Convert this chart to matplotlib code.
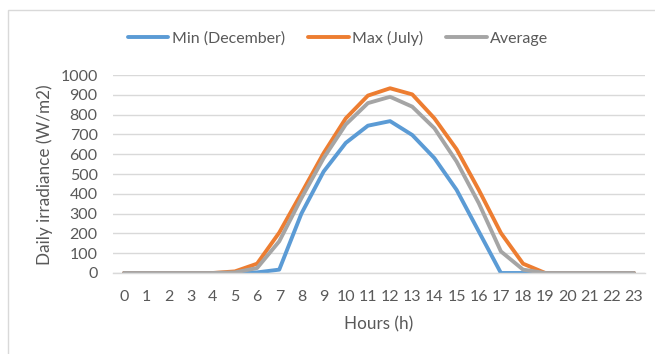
import matplotlib

matplotlib.use("Agg")
import matplotlib.pyplot as plt
from matplotlib.patches import Rectangle

hours = list(range(24))
min_december = [0, 0, 0, 0, 0, 0, 3, 17, 300, 512, 657, 744, 767, 697, 580, 420, 210, 0, 0, 0, 0, 0, 0, 0]
max_july = [0, 0, 0, 0, 0, 8, 47, 204, 403, 605, 781, 896, 933, 902, 781, 625, 420, 202, 47, 0, 0, 0, 0, 0]
average = [0, 0, 0, 0, 0, 3, 25, 160, 378, 580, 750, 858, 890, 840, 731, 563, 353, 109, 17, 0, 0, 0, 0, 0]

series = [
    ("Min (December)", min_december, "#5B9BD5"),
    ("Max (July)", max_july, "#ED7D31"),
    ("Average", average, "#A5A5A5"),
]

plt.rcParams["font.family"] = ["Lato", "DejaVu Sans"]
text_color = "#595959"
fs = 11.5

fig = plt.figure(figsize=(6.55, 3.54), dpi=100)
fig.patches.append(Rectangle((8 / 655, -0.1), 1.2, 1 - 10 / 354 + 0.1, transform=fig.transFigure,
                             fill=False, edgecolor="#d9d9d9", linewidth=1.0))
ax = fig.add_axes([113 / 655, 81 / 354, 532 / 655, 198 / 354])

for label, values, color in series:
    ax.plot(hours, values, color=color, linewidth=2.8, label=label, solid_capstyle="round", solid_joinstyle="round")

ax.set_xlim(-0.5, 23.5)
ax.set_ylim(0, 1000)
ax.set_yticks(range(0, 1001, 100))
ax.set_xticks(hours)
ax.grid(axis="y", color="#d9d9d9", linewidth=1.0)
ax.set_axisbelow(True)
for side in ["top", "right", "left"]:
    ax.spines[side].set_visible(False)
ax.spines["bottom"].set_color("#d9d9d9")
ax.spines["bottom"].set_linewidth(1.0)
ax.tick_params(axis="both", length=0, labelsize=fs, labelcolor=text_color)
ax.tick_params(axis="x", pad=12)
ax.tick_params(axis="y", pad=11)

ax.set_xlabel("Hours (h)", fontsize=12.3, color=text_color)
ax.set_ylabel("Daily irradiance (W/m2)", fontsize=12.3, color=text_color)
ax.xaxis.set_label_coords(0.5, -0.258)
ax.yaxis.set_label_coords(-0.128, 0.495)
ax.xaxis.label.set_va("center")
ax.yaxis.label.set_va("center")

fig.legend(loc="center", bbox_to_anchor=(338 / 655, 1 - 38 / 354), ncol=3, frameon=False,
           fontsize=fs, labelcolor=text_color, handlelength=2.55, handletextpad=0.2, columnspacing=1.45)

fig.savefig("out.png", dpi=100)
